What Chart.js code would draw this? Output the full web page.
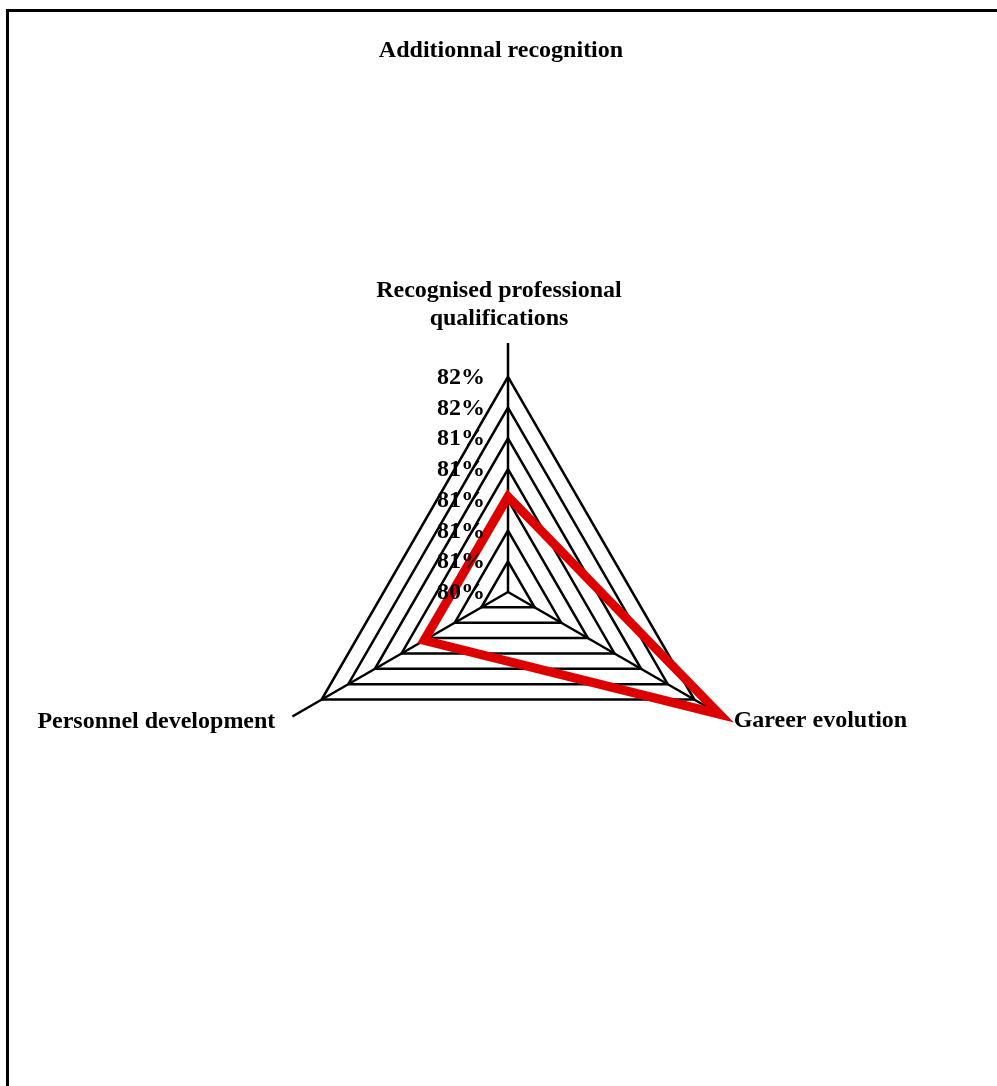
<!DOCTYPE html>
<html>
<head>
<meta charset="utf-8">
<title>Additionnal recognition</title>
<script src="https://cdn.jsdelivr.net/npm/chart.js@4.4.1/dist/chart.umd.min.js"></script>
<style>
    html, body { margin: 0; padding: 0; background: #fff; overflow: hidden; }
    #wrap { position: relative; width: 997px; height: 1086px; }
    /* black frame round the chart, cut by the right and bottom edges */
    #frame {
        position: absolute; left: 6px; top: 9px; width: 2000px; height: 2000px;
        border: 3px solid #000; pointer-events: none;
    }
</style>
</head>
<body>
<div id="wrap">
    <canvas id="radar"></canvas>
    <div id="frame"></div>
</div>
<script>
// Chart data
const titleText = 'Additionnal recognition';
const categories = [
    ['Recognised professional', 'qualifications'],
    'Gareer evolution',
    'Personnel development'
];
const seriesValues = [81.02, 81.99, 81.03];

// Axis: ticks every 0.2 %, shown rounded like in the original
const tickValues = [80.4, 80.6, 80.8, 81.0, 81.2, 81.4, 81.6, 81.8];
const tickLabels = ['80%', '81%', '81%', '81%', '81%', '81%', '82%', '82%'];
const axisMin = 80.4;
const axisMax = 82.02;

const font = 'bold 24px "Liberation Serif", "Times New Roman", serif';

// Plugin that writes the title, the category labels and the tick labels
const labelsPlugin = {
    id: 'labelsPlugin',
    afterDraw(chart) {
        const ctx = chart.ctx;
        const scale = chart.scales.r;
        const cx = scale.xCenter;
        const cy = scale.yCenter;

        ctx.save();
        ctx.font = font;
        ctx.fillStyle = '#000';
        ctx.textBaseline = 'alphabetic';

        // Title
        ctx.textAlign = 'center';
        ctx.fillText(titleText, 501, 57);

        // Tick labels left of the vertical axis
        ctx.textAlign = 'right';
        tickValues.forEach((v, i) => {
            const y = cy - scale.getDistanceFromCenterForValue(v);
            ctx.fillText(tickLabels[i], cx - 23, y + 7);
        });

        // Category labels at the ends of the axes
        const outer = scale.drawingArea;
        const top = scale.getPointPosition(0, outer);
        ctx.textAlign = 'center';
        ctx.fillText(categories[0][0], top.x - 9, top.y - 46);
        ctx.fillText(categories[0][1], top.x - 9, top.y - 18);

        const right = scale.getPointPosition(1, outer);
        ctx.textAlign = 'left';
        ctx.fillText(categories[1], right.x + 10, right.y + 10);

        const left = scale.getPointPosition(2, outer);
        ctx.textAlign = 'right';
        ctx.fillText(categories[2], left.x - 17, left.y + 11);

        ctx.restore();
    }
};

new Chart(document.getElementById('radar'), {
    type: 'radar',
    data: {
        labels: categories,
        datasets: [{
            label: 'Additionnal recognition',
            data: seriesValues,
            borderColor: '#DD0000',
            backgroundColor: 'transparent',
            borderWidth: 9,
            borderJoinStyle: 'miter',
            pointRadius: 0,
            pointHoverRadius: 0,
            fill: false,
            tension: 0,
            clip: false
        }]
    },
    options: {
        responsive: true,
        maintainAspectRatio: false,
        animation: false,
        layout: {
            padding: { left: 259, right: 240, top: 343, bottom: 245 }
        },
        scales: {
            r: {
                min: axisMin,
                max: axisMax,
                beginAtZero: false,
                // Only the rings of the listed ticks are drawn
                afterBuildTicks: axis => {
                    axis.ticks = tickValues.map(v => ({ value: v }));
                },
                ticks: { display: false },
                pointLabels: { display: false },
                grid: {
                    circular: false,
                    color: '#000',
                    lineWidth: 2.5
                },
                angleLines: {
                    display: true,
                    color: '#000',
                    lineWidth: 2.5
                }
            }
        },
        plugins: {
            legend: { display: false },
            title: { display: false },
            tooltip: { enabled: false }
        }
    },
    plugins: [labelsPlugin]
});
</script>
</body>
</html>
